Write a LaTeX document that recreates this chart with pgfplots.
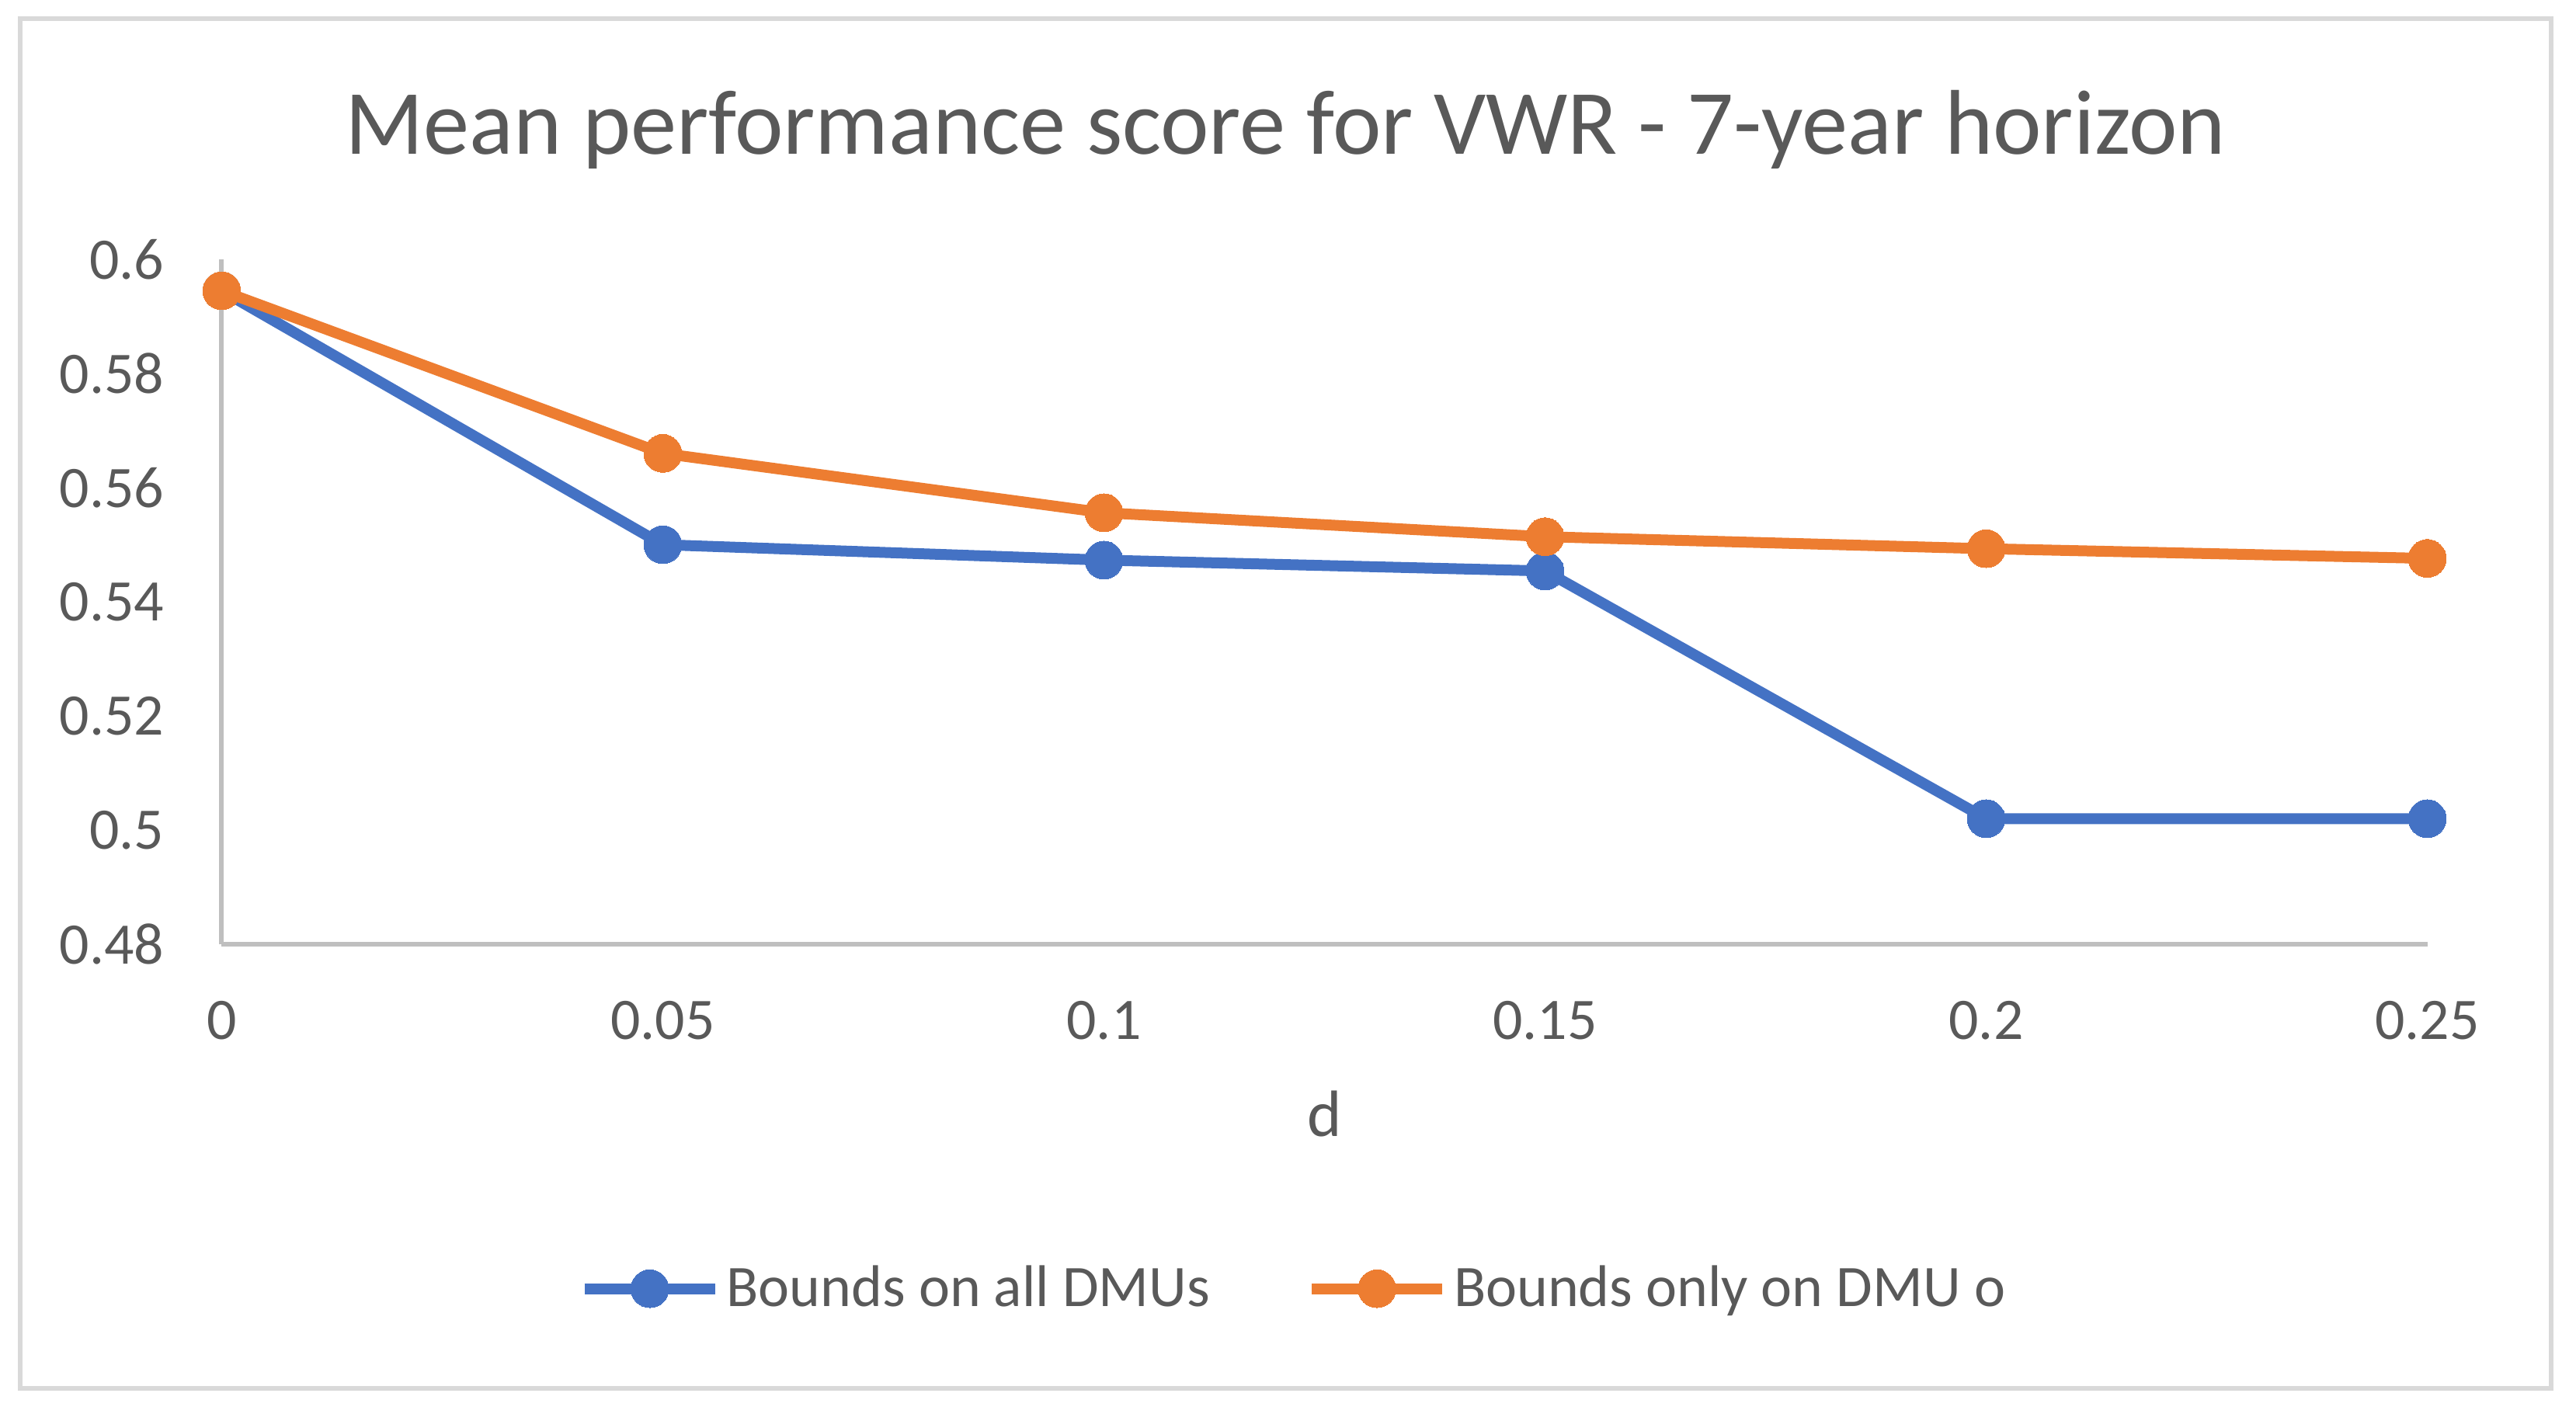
\documentclass[border=0pt]{standalone}
\usepackage{pgfplots}
\pgfplotsset{compat=1.18}
\usepackage{fontspec}
\setmainfont{Carlito}
\definecolor{xlblue}{HTML}{4472C4}
\definecolor{xlorange}{HTML}{ED7D31}
\definecolor{xltext}{HTML}{595959}
\definecolor{xlaxis}{HTML}{BFBFBF}
\definecolor{xlborder}{HTML}{D9D9D9}
\begin{document}
\begin{tikzpicture}
\path[use as bounding box] (0,0) rectangle (829.25pt,452.75pt);
\draw[xlborder, line width=1.5pt] (6.375pt,5.75pt) rectangle (821.25pt,446.75pt);
\begin{axis}[
  at={(71.375pt,148.75pt)}, anchor=south west,
  scale only axis, width=710pt, height=220.5pt,
  xmin=0, xmax=0.25, ymin=0.48, ymax=0.6,
  axis lines*=left,
  axis line style={xlaxis, line width=1.5pt},
  major tick length=0pt,
  xtick={0,0.05,0.1,0.15,0.2,0.25},
  xticklabels={0,0.05,0.1,0.15,0.2,0.25},
  ytick={0.48,0.5,0.52,0.54,0.56,0.58,0.6},
  yticklabels={0.48,0.5,0.52,0.54,0.56,0.58,0.6},
  xticklabel style={anchor=base, inner sep=0pt, yshift=-30.5pt, font=\fontsize{18.95}{22}\selectfont, text=xltext},
  yticklabel style={anchor=east, inner sep=0pt, xshift=-18.4pt, font=\fontsize{18.95}{22}\selectfont, text=xltext},
  xlabel={d},
  xlabel style={at={(axis description cs:0.5,0)}, anchor=base, inner sep=0pt, yshift=-61.75pt, font=\fontsize{21.1}{25}\selectfont, text=xltext},
  clip=false,
  legend columns=2,
  legend style={at={(0.4868,-0.503)}, anchor=center, draw=none, fill=none,
    font=\fontsize{18.95}{22}\selectfont, text=xltext,
    nodes={inner sep=2pt},
    /tikz/every even column/.append style={column sep=29pt}},
  legend image code/.code={\draw[mark repeat=2,mark phase=2,#1] plot coordinates {(0pt,0pt) (21pt,0pt) (42pt,0pt)};},
]
\addplot[xlblue, line width=3.5pt, mark=*, mark size=6.1pt, mark options={line width=0pt, fill=xlblue}]
  coordinates {(0,0.5945) (0.05,0.5500) (0.1,0.5473) (0.15,0.5454) (0.2,0.5020) (0.25,0.5020)};
\addlegendentry{Bounds on all DMUs}
\addplot[xlorange, line width=3.5pt, mark=*, mark size=6.1pt, mark options={line width=0pt, fill=xlorange}]
  coordinates {(0,0.5945) (0.05,0.5660) (0.1,0.5556) (0.15,0.5514) (0.2,0.5493) (0.25,0.5476)};
\addlegendentry{Bounds only on DMU o}
\end{axis}
\node[anchor=base, inner sep=0pt, text=xltext, font=\fontsize{29.6}{35}\selectfont] at (413.75pt,403pt) {Mean performance score for VWR - 7-year horizon};
\end{tikzpicture}
\end{document}
